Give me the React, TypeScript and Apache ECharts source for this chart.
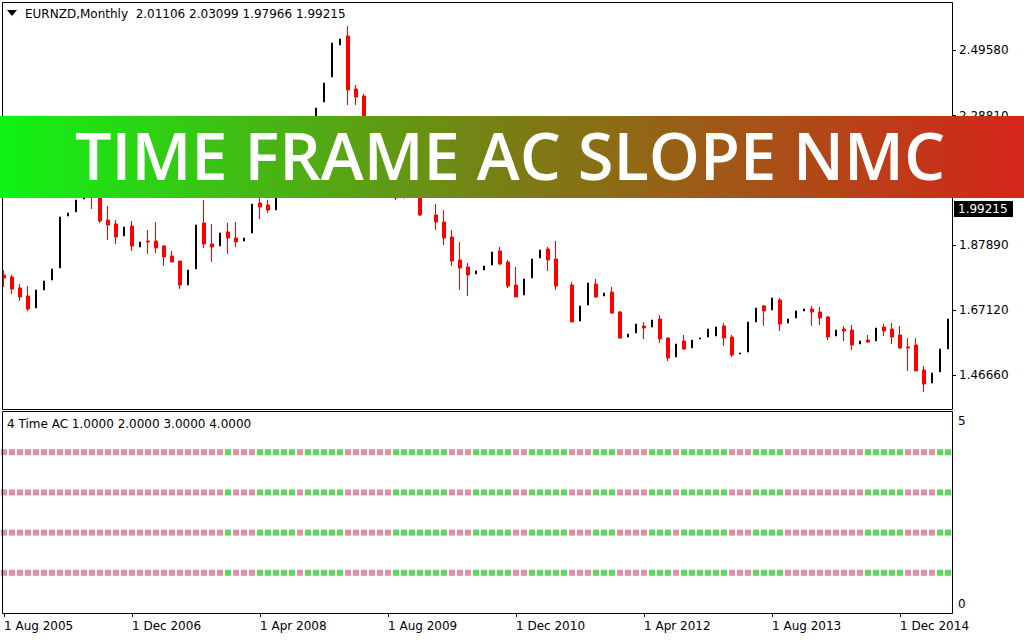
import React, { useEffect, useRef } from "react";
import * as echarts from "echarts";

const MONTHS = ["Jan", "Feb", "Mar", "Apr", "May", "Jun", "Jul", "Aug", "Sep", "Oct", "Nov", "Dec"];
const START_YEAR = 2005;
const START_MONTH = 7; // Aug
const BAR_COUNT = 119;
const categories: string[] = [];
for (let i = 0; i < BAR_COUNT; i++) {
  const m = (START_MONTH + i) % 12;
  const y = START_YEAR + Math.floor((START_MONTH + i) / 12);
  categories.push(`1 ${MONTHS[m]} ${y}`);
}

const opens = [
  1.7833, 1.7770, 1.7421, 1.7168, 1.6788, 1.7358, 1.7675, 1.8055, 1.9701, 1.9828,
  2.0240, 2.0900, 2.0300, 1.9575, 1.9448, 1.9068, 1.9385, 1.8720, 1.8910, 1.8910,
  1.8751, 1.8435, 1.8276, 1.7516, 1.8023, 1.9480, 1.8815, 1.8751, 1.9195, 1.9005,
  1.8910, 1.9163, 2.0113, 2.0050, 1.9891, 2.0500, 2.1300, 2.0900, 2.1700, 2.2600,
  2.3311, 2.4103, 2.5116, 2.5401, 2.3723, 2.3501, 2.2000, 2.1400, 2.1700, 2.0800,
  2.0271, 2.0700, 2.0500, 1.9733, 1.9733, 1.9511, 1.9036, 1.8308, 1.8086, 1.7865,
  1.7991, 1.8150, 1.8593, 1.8245, 1.7516, 1.7200, 1.7738, 1.8371, 1.8656, 1.8340,
  1.7485, 1.7516, 1.6376, 1.6883, 1.7548, 1.7168, 1.7295, 1.6661, 1.5869, 1.5996,
  1.6218, 1.6186, 1.6439, 1.5838, 1.5236, 1.5743, 1.5521, 1.5806, 1.5869, 1.5901,
  1.6218, 1.5869, 1.5331, 1.5394, 1.6344, 1.6851, 1.6725, 1.7041, 1.6313, 1.6471,
  1.6693, 1.6756, 1.6661, 1.6503, 1.5901, 1.6123, 1.6091, 1.5648, 1.5774, 1.5743,
  1.6186, 1.6123, 1.5932, 1.5553, 1.5616, 1.4825, 1.4413, 1.4761, 1.5490,
];
const closes = [
  1.7738, 1.7390, 1.7136, 1.6756, 1.7358, 1.7643, 1.8023, 1.9670, 1.9796, 2.0208,
  2.0550, 2.0300, 1.9543, 1.9416, 1.9036, 1.9353, 1.8751, 1.8878, 1.8878, 1.8688,
  1.8403, 1.8245, 1.7516, 1.7991, 1.9416, 1.8815, 1.8720, 1.9163, 1.9005, 1.8878,
  1.9005, 2.0081, 1.9986, 1.9891, 2.0500, 2.1300, 2.0900, 2.1700, 2.2600, 2.3121,
  2.3913, 2.5179, 2.5306, 2.3691, 2.3469, 2.2000, 2.1400, 2.1700, 2.0800, 2.0271,
  2.0700, 2.0500, 1.9733, 1.9733, 1.9511, 1.9005, 1.8276, 1.8055, 1.7833, 1.7960,
  1.8118, 1.8561, 1.8181, 1.7485, 1.7136, 1.7706, 1.8340, 1.8625, 1.8308, 1.7485,
  1.7485, 1.6344, 1.6851, 1.7580, 1.7136, 1.7263, 1.6629, 1.5838, 1.5964, 1.6281,
  1.6154, 1.6408, 1.5806, 1.5204, 1.5648, 1.5490, 1.5774, 1.5838, 1.6123, 1.6186,
  1.5838, 1.5299, 1.5363, 1.6344, 1.6788, 1.6693, 1.7105, 1.6281, 1.6439, 1.6693,
  1.6756, 1.6661, 1.6471, 1.5869, 1.6091, 1.6059, 1.5616, 1.5743, 1.5711, 1.6154,
  1.6059, 1.5869, 1.5521, 1.5521, 1.4793, 1.4381, 1.4730, 1.5490, 1.6439,
];
const lows = [
  1.7453, 1.7231, 1.7009, 1.6693, 1.6788, 1.7358, 1.7675, 1.8055, 1.9701, 1.9828,
  2.0240, 1.9923, 1.9480, 1.8941, 1.8815, 1.9068, 1.8593, 1.8720, 1.8498, 1.8530,
  1.8118, 1.8245, 1.7390, 1.7516, 1.8023, 1.8688, 1.8245, 1.8751, 1.8498, 1.8720,
  1.8910, 1.9163, 1.9606, 1.9796, 1.9891, 2.0500, 2.0700, 2.0900, 2.1700, 2.2600,
  2.3311, 2.4103, 2.5116, 2.3216, 2.3216, 2.1800, 2.1200, 2.1400, 2.0600, 2.0208,
  2.0271, 2.0350, 1.9701, 1.9701, 1.9258, 1.8783, 1.8118, 1.7358, 1.7168, 1.7865,
  1.7991, 1.8150, 1.8150, 1.7421, 1.7136, 1.7200, 1.7738, 1.8371, 1.7960, 1.7358,
  1.7453, 1.6344, 1.6376, 1.6883, 1.7105, 1.7168, 1.6598, 1.5806, 1.5869, 1.5996,
  1.5806, 1.6186, 1.5679, 1.5109, 1.5236, 1.5458, 1.5521, 1.5806, 1.5869, 1.5901,
  1.5584, 1.5236, 1.5331, 1.5394, 1.6344, 1.6218, 1.6725, 1.6059, 1.6313, 1.6471,
  1.6693, 1.6218, 1.6249, 1.5774, 1.5901, 1.5743, 1.5458, 1.5648, 1.5679, 1.5743,
  1.5901, 1.5648, 1.5490, 1.4793, 1.4793, 1.4128, 1.4413, 1.4761, 1.5490,
];
const highs = [
  1.7991, 1.7833, 1.7548, 1.7485, 1.7358, 1.7643, 1.8023, 1.9670, 1.9796, 2.0208,
  2.0550, 2.1000, 2.0500, 2.0018, 1.9575, 1.9353, 1.9543, 1.8878, 1.9258, 1.9511,
  1.8783, 1.8593, 1.8276, 1.7991, 1.9416, 2.0208, 1.9448, 1.9163, 1.9480, 1.9511,
  1.9005, 2.0081, 2.0303, 2.0208, 2.0500, 2.1300, 2.1600, 2.1700, 2.2600, 2.3121,
  2.3913, 2.5179, 2.5306, 2.5718, 2.3849, 2.3564, 2.2300, 2.1700, 2.1900, 2.0900,
  2.0700, 2.0900, 2.0700, 1.9765, 2.0081, 1.9891, 1.9258, 1.8878, 1.8213, 1.7960,
  1.8118, 1.8561, 1.8720, 1.8308, 1.8086, 1.7706, 1.8340, 1.8625, 1.8720, 1.8910,
  1.7516, 1.7611, 1.6851, 1.7580, 1.7706, 1.7263, 1.7453, 1.6693, 1.5964, 1.6281,
  1.6344, 1.6408, 1.6566, 1.5838, 1.5648, 1.5932, 1.5774, 1.5838, 1.6123, 1.6186,
  1.6313, 1.5932, 1.5363, 1.6344, 1.6788, 1.6883, 1.7105, 1.7105, 1.6439, 1.6693,
  1.6756, 1.6851, 1.6820, 1.6534, 1.6091, 1.6218, 1.6249, 1.5743, 1.5932, 1.6154,
  1.6281, 1.6313, 1.6218, 1.5838, 1.5838, 1.4951, 1.4730, 1.5490, 1.6439,
];

// AC slope state per bar for each time frame: 1 = rising (green), 0 = falling (pink)
const slopeTF1 = [
  0, 0, 0, 0, 0, 0, 0, 0, 0, 0, 0, 0, 0, 0, 0, 0, 0, 0, 0, 0,
  0, 0, 0, 0, 0, 0, 0, 0, 1, 0, 0, 0, 1, 1, 1, 1, 1, 0, 1, 1,
  1, 1, 1, 0, 0, 0, 0, 0, 0, 1, 1, 1, 1, 1, 1, 1, 0, 0, 0, 1,
  1, 1, 1, 1, 0, 0, 1, 1, 1, 1, 1, 0, 0, 0, 1, 1, 1, 0, 0, 0,
  0, 1, 1, 1, 0, 1, 1, 1, 1, 1, 1, 0, 0, 0, 1, 1, 1, 1, 0, 0,
  0, 0, 0, 0, 0, 0, 0, 0, 1, 1, 1, 1, 1, 0, 0, 0, 0, 1, 1,
];
const slopeTF2 = slopeTF1.slice();
const slopeTF3 = slopeTF1.slice();
const slopeTF4 = slopeTF1.slice();
const slopeRows = [slopeTF1, slopeTF2, slopeTF3, slopeTF4];
const rowLevels = [4, 3, 2, 1];

const priceTicks = [1.4666, 1.6712, 1.8789, 2.2881, 2.4958];

const TITLE = "EURNZD,Monthly  2.01106 2.03099 1.97966 1.99215";
const IND_TITLE = "4 Time AC 1.0000 2.0000 3.0000 4.0000";
const BANNER = "TIME FRAME AC SLOPE NMC";
const LAST_PRICE = "1.99215";

const FONT = "DejaVu Sans";
const BANNER_FONT = "Open Sans";

export default function App() {
  const ref = useRef<HTMLDivElement>(null);

  useEffect(() => {
    if (!ref.current) return;
    const chart = echarts.init(ref.current, null, { renderer: "svg" });

    const downData = opens.map((o, i) =>
      o > closes[i] ? [o, closes[i], lows[i], highs[i]] : "-"
    );
    const upData = opens.map((o, i) =>
      closes[i] > o ? [o, closes[i], lows[i], highs[i]] : "-"
    );
    const indData: any[] = [];
    slopeRows.forEach((row, r) => {
      row.forEach((s, i) => {
        indData.push({
          value: [i, rowLevels[r]],
          itemStyle: { color: s ? "#32cd32" : "#db7093" },
        });
      });
    });

    // measure banner text to fit reference width
    let bannerScale = 1;
    try {
      const ctx = document.createElement("canvas").getContext("2d");
      if (ctx) {
        ctx.font = `600 66px "${BANNER_FONT}"`;
        const w = ctx.measureText(BANNER).width;
        if (w > 0) bannerScale = 870 / w;
      }
    } catch (e) {}

    const option: any = {
      animation: false,
      backgroundColor: "#ffffff",
      grid: [
        { left: 0, top: 3, width: 952, height: 406, outerBoundsMode: "none" },
        { left: 0, top: 412, width: 952, height: 201, outerBoundsMode: "none" },
      ],
      xAxis: [
        { type: "category", gridIndex: 0, data: categories, show: false },
        {
          type: "category",
          gridIndex: 1,
          data: categories,
          position: "bottom",
          axisLine: { show: false },
          axisTick: {
            show: true,
            interval: 15,
            alignWithLabel: true,
            length: 4,
            lineStyle: { color: "#000", width: 1 },
          },
          axisLabel: {
            interval: 15,
            align: "left",
            margin: 7,
            color: "#000",
            fontFamily: FONT,
            fontSize: 12,
          },
          splitLine: { show: false },
        },
      ],
      yAxis: [
        {
          type: "value",
          gridIndex: 0,
          min: 1.3589,
          max: 2.6446,
          position: "right",
          splitLine: { show: false },
          axisLine: { show: false },
          axisTick: {
            show: true,
            length: 4,
            customValues: priceTicks,
            lineStyle: { color: "#000" },
          },
          axisLabel: {
            customValues: priceTicks,
            formatter: (v: number) => v.toFixed(5),
            margin: 7,
            color: "#000",
            fontFamily: FONT,
            fontSize: 12,
          },
        },
        { type: "value", gridIndex: 1, min: 0, max: 5, show: false },
      ],
      series: [
        {
          type: "candlestick",
          xAxisIndex: 0,
          yAxisIndex: 0,
          barWidth: 4,
          data: downData,
          itemStyle: {
            color: "#ff0000",
            color0: "#ff0000",
            borderColor: "#ff0000",
            borderColor0: "#ff0000",
            borderWidth: 1,
          },
        },
        {
          type: "candlestick",
          xAxisIndex: 0,
          yAxisIndex: 0,
          barWidth: 2,
          data: upData,
          itemStyle: {
            color: "#000000",
            color0: "#000000",
            borderColor: "#000000",
            borderColor0: "#000000",
            borderWidth: 1,
          },
        },
        {
          type: "scatter",
          xAxisIndex: 1,
          yAxisIndex: 1,
          symbol: "rect",
          symbolSize: [6, 6],
          data: indData,
        },
      ],
      graphic: [
        {
          type: "rect",
          z: 50,
          shape: { x: 2.5, y: 2.5, width: 950, height: 407 },
          style: { fill: "none", stroke: "#000", lineWidth: 1 },
        },
        {
          type: "rect",
          z: 50,
          shape: { x: 2.5, y: 411.5, width: 950, height: 202 },
          style: { fill: "none", stroke: "#000", lineWidth: 1 },
        },
        {
          type: "polygon",
          z: 50,
          shape: { points: [[7, 10], [17, 10], [12, 16]] },
          style: { fill: "#000" },
        },
        {
          type: "text",
          z: 50,
          x: 25,
          y: 14,
          style: {
            text: TITLE,
            fill: "#000",
            fontFamily: FONT,
            fontSize: 12,
            align: "left",
            verticalAlign: "middle",
          },
        },
        {
          type: "text",
          z: 50,
          x: 7,
          y: 424,
          style: {
            text: IND_TITLE,
            fill: "#000",
            fontFamily: FONT,
            fontSize: 12,
            align: "left",
            verticalAlign: "middle",
          },
        },
        {
          type: "text",
          z: 50,
          x: 958,
          y: 421,
          style: { text: "5", fill: "#000", fontFamily: FONT, fontSize: 12, align: "left", verticalAlign: "middle" },
        },
        {
          type: "text",
          z: 50,
          x: 958,
          y: 604,
          style: { text: "0", fill: "#000", fontFamily: FONT, fontSize: 12, align: "left", verticalAlign: "middle" },
        },
        {
          type: "rect",
          z: 50,
          shape: { x: 954, y: 201, width: 59, height: 16 },
          style: { fill: "#000" },
        },
        {
          type: "text",
          z: 51,
          x: 958,
          y: 209,
          style: { text: LAST_PRICE, fill: "#fff", fontFamily: FONT, fontSize: 12, align: "left", verticalAlign: "middle" },
        },
        {
          type: "rect",
          z: 100,
          shape: { x: 0, y: 116, width: 1024, height: 82 },
          style: {
            fill: new echarts.graphic.LinearGradient(0, 0, 1, 0, [
              { offset: 0, color: "#0ef414" },
              { offset: 0.5, color: "#7a7d14" },
              { offset: 1, color: "#d6241a" },
            ]),
          },
        },
        {
          type: "text",
          z: 101,
          x: 510,
          y: 154,
          scaleX: bannerScale,
          style: {
            text: BANNER,
            fill: "#ffffff",
            fontFamily: BANNER_FONT,
            fontWeight: 600,
            fontSize: 66,
            align: "center",
            verticalAlign: "middle",
          },
        },
      ],
    };

    chart.setOption(option);
    return () => chart.dispose();
  }, []);

  return (
    <div
      ref={ref}
      style={{ position: "absolute", left: 0, top: 0, width: 1024, height: 640, background: "#fff" }}
    />
  );
}
